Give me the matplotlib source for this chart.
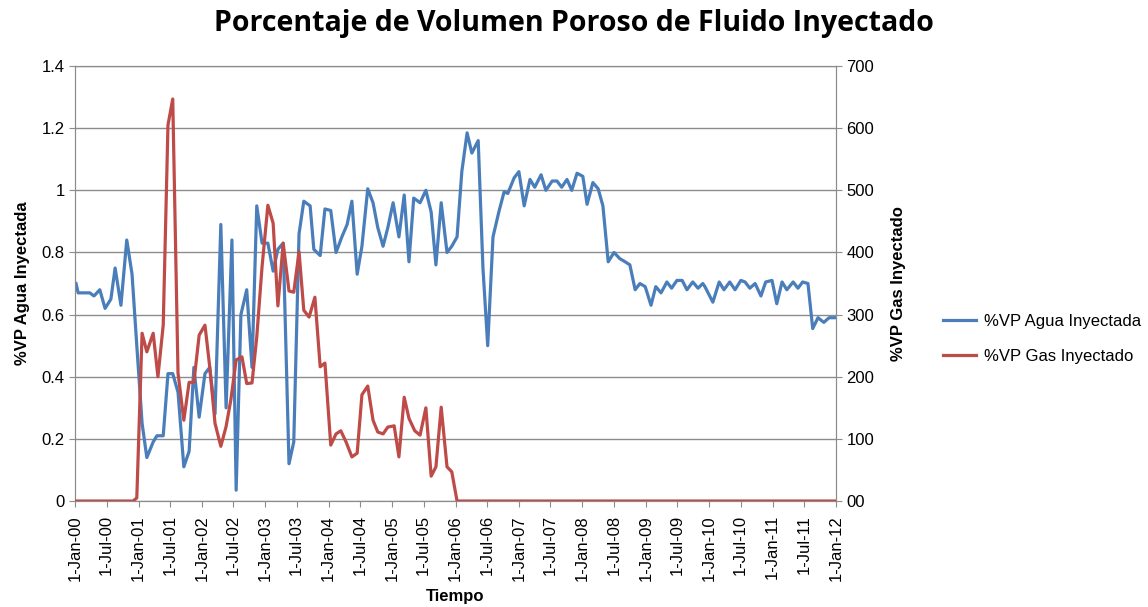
import matplotlib
matplotlib.use("Agg")
import matplotlib.pyplot as plt
import matplotlib.dates as mdates
import numpy as np
from datetime import datetime, timedelta

# months since 1-Jan-2000 for each vertex
agua_mes = [0.2, 0.6, 2.8, 3.6, 4.7, 5.7, 6.8, 7.6, 8.7, 9.8, 10.8, 11.7, 12.7, 13.6, 14.8, 15.5,
            16.7, 17.6, 18.5, 19.5, 20.6, 21.6, 22.5, 23.5, 24.6, 25.5, 26.5, 27.6, 28.6, 29.7,
            30.5, 31.4, 32.5, 33.5, 34.4, 35.4, 36.5, 37.5, 38.4, 39.4, 40.5, 41.4, 42.4, 43.3,
            44.5, 45.2, 46.4, 47.3, 48.4, 49.4, 50.5, 51.5, 52.4, 53.4, 54.3, 55.4, 56.4, 57.3,
            58.3, 59.2, 60.2, 61.3, 62.3, 63.2, 64.1, 65.3, 66.4, 67.4, 68.3, 69.3, 70.4, 71.3,
            72.3, 73.2, 74.2, 75.1, 76.3, 77.2, 78.1, 79.1, 80.2, 81.2, 81.9, 83.1, 84.0, 85.0,
            86.1, 87.0, 88.2, 89.1, 90.3, 91.2, 92.1, 93.1, 94.0, 95.0, 96.1, 96.9, 98.0, 99.0,
            99.9, 100.9, 102.0, 103.1, 104.1, 105.0, 106.0, 106.9, 107.9, 109.0, 109.9, 110.9,
            112.0, 112.9, 113.9, 114.9, 115.8, 116.9, 117.9, 118.8, 119.2, 120.7, 121.9, 122.8,
            123.9, 124.9, 126.0, 126.8, 127.7, 128.7, 129.8, 130.7, 131.9, 132.8, 133.8, 134.7,
            135.9, 136.8, 137.7, 138.7, 139.6, 140.6, 141.7, 142.7, 143.8]
agua = [0.70, 0.67, 0.67, 0.66, 0.68, 0.62, 0.65, 0.75, 0.63, 0.84, 0.73, 0.50, 0.25, 0.14, 0.19, 0.21,
        0.21, 0.41, 0.41, 0.35, 0.11, 0.16, 0.43, 0.27, 0.41, 0.43, 0.28, 0.89, 0.30, 0.84,
        0.035, 0.60, 0.68, 0.43, 0.95, 0.83, 0.83, 0.74, 0.81, 0.83, 0.12, 0.19, 0.86, 0.965,
        0.95, 0.81, 0.79, 0.94, 0.935, 0.80, 0.85, 0.89, 0.965, 0.73, 0.82, 1.005, 0.96, 0.88,
        0.82, 0.88, 0.96, 0.85, 0.985, 0.77, 0.975, 0.96, 1.0, 0.93, 0.76, 0.96, 0.80, 0.82,
        0.85, 1.06, 1.185, 1.12, 1.16, 0.75, 0.50, 0.85, 0.93, 0.995, 0.99, 1.04, 1.06, 0.95,
        1.035, 1.01, 1.05, 1.0, 1.03, 1.03, 1.01, 1.035, 1.0, 1.055, 1.045, 0.955, 1.025, 1.005,
        0.95, 0.77, 0.80, 0.78, 0.77, 0.76, 0.68, 0.70, 0.69, 0.63, 0.69, 0.67,
        0.705, 0.685, 0.71, 0.71, 0.68, 0.705, 0.685, 0.70, 0.69, 0.64, 0.705, 0.68,
        0.705, 0.68, 0.71, 0.705, 0.685, 0.70, 0.66, 0.705, 0.71, 0.635, 0.705, 0.68,
        0.705, 0.685, 0.705, 0.70, 0.555, 0.59, 0.575, 0.59, 0.59]

gas_mes = [0.0, 11.0, 11.7, 12.7, 13.6, 14.8, 15.7, 16.7, 17.6, 18.5, 19.5, 20.6, 21.6, 22.5, 23.5,
           24.6, 25.5, 26.5, 27.6, 28.6, 29.5, 30.5, 31.6, 32.5, 33.5, 34.4, 35.4, 36.5, 37.5,
           38.4, 39.4, 40.5, 41.4, 42.4, 43.3, 44.3, 45.4, 46.4, 47.3, 48.4, 49.4, 50.3, 51.3,
           52.4, 53.4, 54.3, 55.4, 56.4, 57.3, 58.3, 59.2, 60.4, 61.3, 62.3, 63.2, 64.3, 65.3,
           66.4, 67.4, 68.3, 69.3, 70.4, 71.3, 72.3, 144.0]
gas = [0, 0, 5, 270, 240, 270, 200, 283, 605, 647, 206, 130, 191, 191, 267,
       283, 216, 125, 88, 120, 163, 227, 232, 189, 190, 264, 377, 476, 447,
       314, 415, 338, 336, 401, 307, 296, 328, 216, 222, 90, 108, 113, 95,
       71, 77, 171, 185, 130, 111, 108, 119, 121, 71, 167, 133, 113, 106,
       150, 40, 55, 151, 55, 47, 0, 0]

izq_ticks = [0, 0.2, 0.4, 0.6, 0.8, 1.0, 1.2, 1.4]
izq_labels = ["0", "0.2", "0.4", "0.6", "0.8", "1", "1.2", "1.4"]
der_ticks = [0, 100, 200, 300, 400, 500, 600, 700]
der_labels = ["00", "100", "200", "300", "400", "500", "600", "700"]

inicio = datetime(2000, 1, 1)
def a_fecha(meses):
    return [inicio + timedelta(days=m * 30.4375) for m in meses]

plt.rcParams['font.family'] = ['Liberation Sans', 'DejaVu Sans']
azul = '#4A7EBB'
rojo = '#BE4B48'

fig = plt.figure(figsize=(11.48, 6.07), dpi=100)
ax = fig.add_axes([0.0653, 0.1746, 0.6629, 0.7166])
ax2 = ax.twinx()

l1, = ax.plot(a_fecha(agua_mes), agua, color=azul, lw=2.3, label='%VP Agua Inyectada', zorder=3)
l2, = ax2.plot(a_fecha(gas_mes), gas, color=rojo, lw=2.3, label='%VP Gas Inyectado', zorder=3)

ax.set_xlim(datetime(2000, 1, 1), datetime(2012, 1, 1))
ax.set_ylim(0, 1.4)
ax2.set_ylim(0, 700)
ax.set_yticks(izq_ticks)
ax.set_yticklabels(izq_labels)
ax2.set_yticks(der_ticks)
ax2.set_yticklabels(der_labels)

ax.xaxis.set_major_locator(mdates.MonthLocator(bymonth=[1, 7]))
ax.xaxis.set_major_formatter(mdates.DateFormatter('%-d-%b-%y'))

ax.grid(axis='y', color='#8C8C8C', lw=1)
ax.set_axisbelow(True)
for a in (ax, ax2):
    for s in a.spines.values():
        s.set_color('#8C8C8C')
    a.tick_params(colors='black', labelsize=12, length=4, color='#8C8C8C')
ax.tick_params(axis='x', labelsize=12, rotation=90, pad=6)

ax.set_xlabel('Tiempo', fontsize=12, fontweight='bold', labelpad=6)
ax.set_ylabel('%VP Agua Inyectada', fontsize=12, fontweight='bold', labelpad=8)
ax2.set_ylabel('%VP Gas Inyectado', fontsize=12, fontweight='bold', labelpad=12)

fig.suptitle('Porcentaje de Volumen Poroso de Fluido Inyectado', x=0.5, y=0.985,
             fontsize=20.5, fontweight='bold', family=['Open Sans', 'DejaVu Sans'])

fig.legend(handles=[l1, l2], loc='center left', bbox_to_anchor=(0.808, 0.441),
           frameon=False, fontsize=12, handlelength=2.0, handletextpad=0.5, labelspacing=1.2)

fig.savefig('out.png', dpi=100)
